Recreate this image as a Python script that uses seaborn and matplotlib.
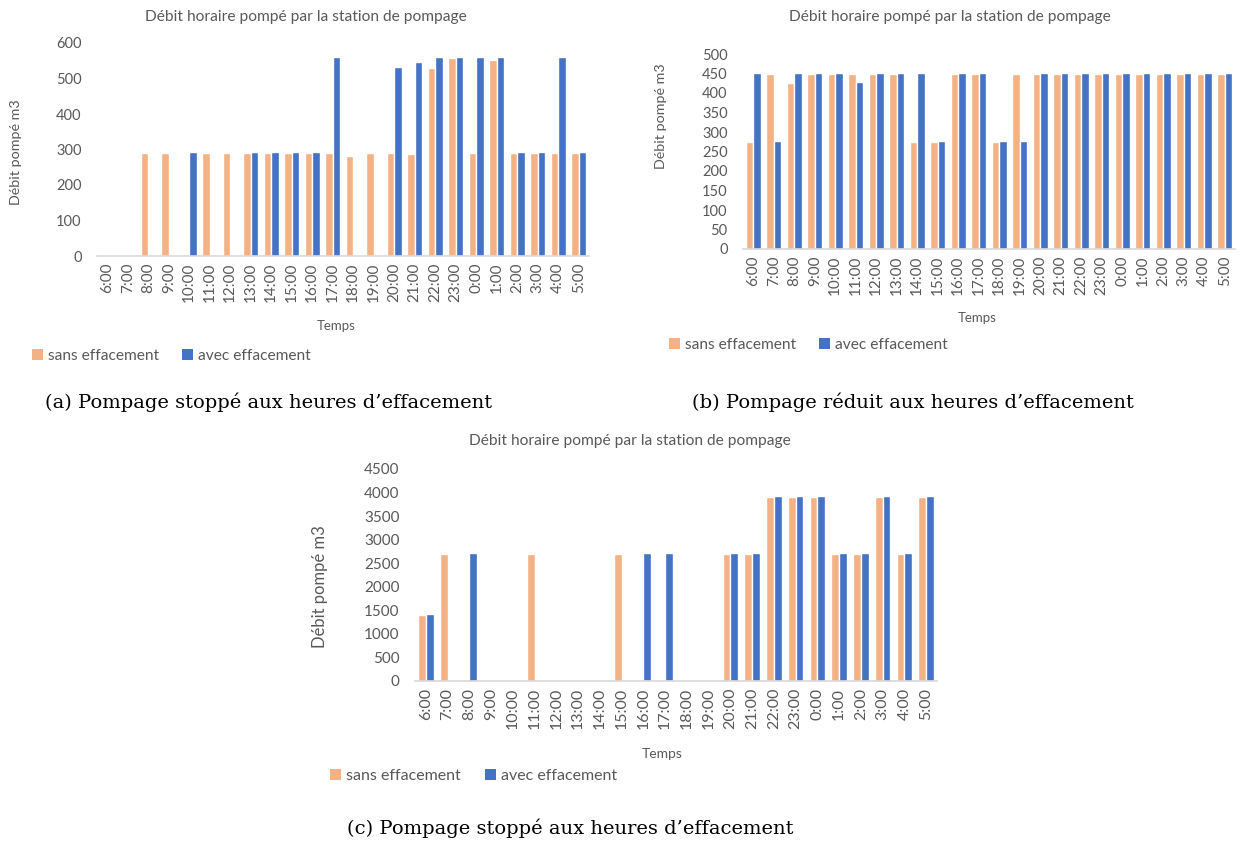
import numpy as np
import pandas as pd
import matplotlib
matplotlib.use("Agg")
import matplotlib.pyplot as plt
import seaborn as sns
from matplotlib.patches import Patch

hours = ["6:00", "7:00", "8:00", "9:00", "10:00", "11:00", "12:00", "13:00",
         "14:00", "15:00", "16:00", "17:00", "18:00", "19:00", "20:00", "21:00",
         "22:00", "23:00", "0:00", "1:00", "2:00", "3:00", "4:00", "5:00"]
series_names = ["sans effacement", "avec effacement"]

# (a) Pompage stoppé
a_sans = [0, 0, 290, 290, 0, 290, 290, 290, 290, 290, 290, 290,
          282, 290, 290, 286, 530, 558, 290, 552, 290, 290, 290, 290]
a_avec = [0, 0, 0, 0, 293, 0, 0, 293, 293, 293, 293, 560,
          0, 0, 533, 546, 560, 560, 560, 560, 293, 293, 560, 293]

# (b) Pompage réduit
b_sans = [275, 450, 425, 450, 450, 450, 450, 450, 275, 275, 450, 450,
          275, 450, 450, 450, 450, 450, 450, 450, 450, 450, 450, 450]
b_avec = [452, 277, 452, 452, 452, 428, 452, 452, 452, 277, 452, 452,
          277, 277, 452, 452, 452, 452, 452, 452, 452, 452, 452, 452]

# (c) Pompage stoppé
c_sans = [1400, 2700, 0, 0, 0, 2700, 0, 0, 0, 2700, 0, 0,
          0, 0, 2700, 2700, 3900, 3900, 3900, 2700, 2700, 3900, 2700, 3900]
c_avec = [1420, 0, 2720, 0, 0, 0, 0, 0, 0, 0, 2720, 2720,
          0, 0, 2720, 2720, 3920, 3920, 3920, 2720, 2720, 3920, 2720, 3920]

sns.set_theme(style="white")
plt.rcParams["font.family"] = ["Lato", "DejaVu Sans"]

ORANGE = "#F4B183"
BLUE = "#4472C4"
TXT = "#595959"
AXC = "#D9D9D9"
W, H = 1240, 841

fig = plt.figure(figsize=(W / 100, H / 100), dpi=100)


def fx(x):
    return x / W


def fy(y):
    return 1 - y / H


def panel(rect, sans, avec, ymax, step, title_xy, ylab_xy, ylab_fs,
          temps_xy, temps_fs, leg_xy, leg_fs, caption, cap_xy, ytick_fs, xtick_fs):
    l, r, t, b = rect
    ax = fig.add_axes([fx(l), fy(b), (r - l) / W, (b - t) / H])
    df = pd.DataFrame({
        "Temps": hours * 2,
        "Débit": sans + avec,
        "Série": [series_names[0]] * len(hours) + [series_names[1]] * len(hours),
    })
    sns.barplot(data=df, x="Temps", y="Débit", hue="Série",
                palette=[ORANGE, BLUE], saturation=1, width=0.72, gap=0.0,
                legend=False, ax=ax, errorbar=None)
    ax.set_ylim(0, ymax)
    ax.set_xlim(-0.5, len(hours) - 0.5)
    ax.set_yticks(np.arange(0, ymax + 1, step))
    ax.set_xlabel("")
    ax.set_ylabel("")
    for s in ["left", "top", "right"]:
        ax.spines[s].set_visible(False)
    ax.spines["bottom"].set_color(AXC)
    ax.spines["bottom"].set_linewidth(1.2)
    ax.tick_params(axis="both", length=0, colors=TXT)
    ax.tick_params(axis="x", rotation=90, pad=5, labelsize=xtick_fs)
    ax.tick_params(axis="y", pad=11, labelsize=ytick_fs)
    ax.grid(False)
    ax.set_facecolor("none")

    fig.text(fx(title_xy[0]), fy(title_xy[1]),
             "Débit horaire pompé par la station de pompage",
             ha="center", va="center", fontsize=11.2, color=TXT)
    fig.text(fx(ylab_xy[0]), fy(ylab_xy[1]), "Débit pompé m3", rotation=90,
             ha="center", va="center", fontsize=ylab_fs, color=TXT)
    fig.text(fx(temps_xy[0]), fy(temps_xy[1]), "Temps",
             ha="center", va="center", fontsize=temps_fs, color=TXT)
    handles = [Patch(facecolor=ORANGE, edgecolor="none"),
               Patch(facecolor=BLUE, edgecolor="none")]
    leg = fig.legend(handles, series_names, loc="center left",
                     bbox_to_anchor=(fx(leg_xy[0]), fy(leg_xy[1])),
                     ncol=2, frameon=False, fontsize=leg_fs,
                     handlelength=0.7, handleheight=0.7, handletextpad=0.3,
                     columnspacing=1.5, borderpad=0, borderaxespad=0)
    for t_ in leg.get_texts():
        t_.set_color(TXT)
    fig.text(fx(cap_xy[0]), fy(cap_xy[1]), caption, ha="left", va="center",
             fontsize=14, color="black", family="DejaVu Serif")


panel((97, 589, 43, 256), a_sans, a_avec, 600, 100,
      title_xy=(306, 17), ylab_xy=(16, 152), ylab_fs=10.3,
      temps_xy=(336, 326), temps_fs=9.5, leg_xy=(32, 356), leg_fs=11.2,
      caption="(a) Pompage stoppé aux heures d’effacement", cap_xy=(45, 402),
      ytick_fs=10.5, xtick_fs=11)

panel((743, 1235, 54, 249), b_sans, b_avec, 500, 50,
      title_xy=(950, 17), ylab_xy=(661, 116), ylab_fs=10.3,
      temps_xy=(977, 318), temps_fs=9.5, leg_xy=(669, 345), leg_fs=11.2,
      caption="(b) Pompage réduit aux heures d’effacement", cap_xy=(692, 402),
      ytick_fs=10.5, xtick_fs=11)

panel((415, 937, 469, 681), c_sans, c_avec, 4500, 500,
      title_xy=(630, 441), ylab_xy=(320, 587), ylab_fs=12,
      temps_xy=(662, 754), temps_fs=10, leg_xy=(330, 776), leg_fs=11.5,
      caption="(c) Pompage stoppé aux heures d’effacement", cap_xy=(347, 828),
      ytick_fs=11, xtick_fs=11.5)

fig.savefig("out.png", dpi=100)
